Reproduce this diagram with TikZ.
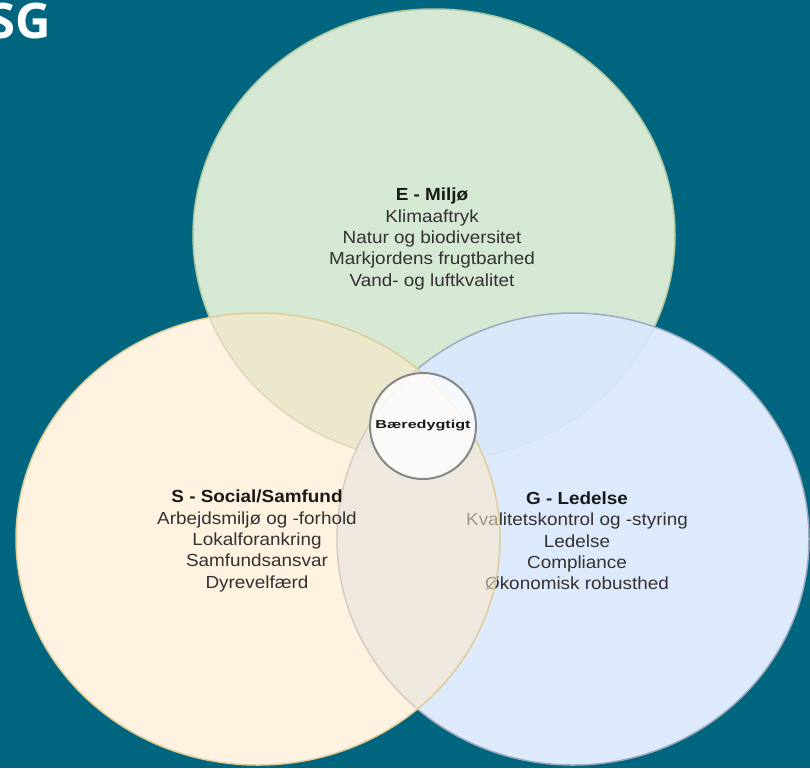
\documentclass[tikz,border=0pt]{standalone}
\usepackage{fontspec}
\setmainfont{Liberation Sans}[FakeStretch=1.08]
\newfontfamily\titlefont{Open Sans}
\usetikzlibrary{shapes.geometric}
\definecolor{bg}{RGB}{0,102,128}
\definecolor{envfill}{RGB}{213,232,212}
\definecolor{envdraw}{RGB}{178,198,160}
\definecolor{govfill}{RGB}{218,232,252}
\definecolor{govdraw}{RGB}{160,172,190}
\definecolor{socfill}{RGB}{255,232,200}
\definecolor{socdraw}{RGB}{222,205,150}
\definecolor{txt}{RGB}{50,50,50}
\definecolor{ttl}{RGB}{25,25,25}
\definecolor{ringgray}{RGB}{135,135,135}
\begin{document}
\begin{tikzpicture}[x=1pt,y=-1pt,
  circ/.style={ellipse, inner sep=0pt, line width=1.5pt},
  body/.style={align=center, inner sep=0pt, text=txt, font=\fontsize{17.5}{21.3}\selectfont}]
\useasboundingbox (0,0) rectangle (810,768);
\fill[bg] (0,0) rectangle (810,768);
\clip (0,0) rectangle (810,768);
\node[anchor=base east, text=white, inner sep=0pt, font=\titlefont\bfseries\fontsize{49}{49}\selectfont] (title) at (51,38) {ESG};
% white canvas under the semi-transparent circles
\fill[white] (434,235) ellipse [x radius=241pt, y radius=226pt];
\fill[white] (573,539) ellipse [x radius=236pt, y radius=226pt];
\fill[white] (258,539) ellipse [x radius=242pt, y radius=226pt];
% E
\node[circ, minimum width=482pt, minimum height=452pt, fill=envfill, draw=envdraw] (E) at (434,235) {};
\node[body] (Etext) at (432,239) {\textcolor{ttl}{\bfseries E - Miljø}\\Klimaaftryk\\Natur og biodiversitet\\Markjordens frugtbarhed\\Vand- og luftkvalitet};
% G
\node[circ, minimum width=472pt, minimum height=452pt, fill=govfill, fill opacity=0.9, draw=govdraw] (G) at (573,539) {};
\node[body] (Gtext) at (577,541) {\textcolor{ttl}{\bfseries G - Ledelse}\\Kvalitetskontrol og -styring\\Ledelse\\Compliance\\Økonomisk robusthed};
% S
\node[circ, minimum width=484pt, minimum height=452pt, fill=socfill, fill opacity=0.55, draw=socdraw] (S) at (258,539) {};
\node[body] (Stext) at (257,541) {\textcolor{ttl}{\bfseries S - Social/Samfund}\\Arbejdsmiljø og -forhold\\Lokalforankring\\Samfundsansvar\\Dyrevelfærd};
% centre
\node[circle, minimum size=106pt, inner sep=0pt, fill=white, fill opacity=0.8, draw=ringgray, line width=2pt] (C) at (423,426) {};
\node[inner sep=0pt, text=ttl] (Ctext) at (C) {\scalebox{1.3}[1]{\bfseries\fontsize{11.5}{12}\selectfont Bæredygtigt}};
\end{tikzpicture}
\end{document}
